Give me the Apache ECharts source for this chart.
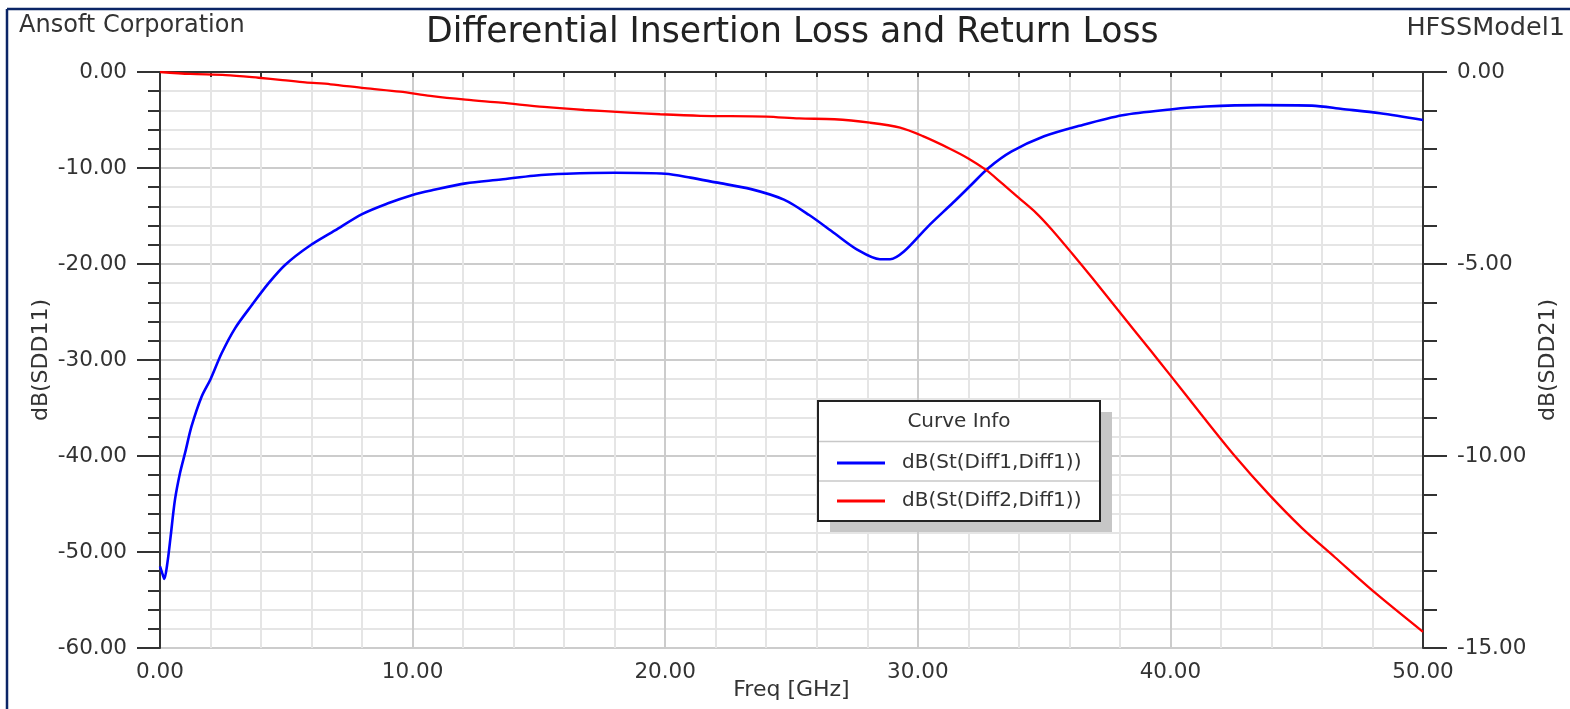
<!DOCTYPE html>
<html>
<head>
<meta charset="utf-8">
<title>Differential Insertion Loss and Return Loss</title>
<script src="https://cdn.jsdelivr.net/npm/echarts@6/dist/echarts.min.js"></script>
<style>
  html, body { margin: 0; padding: 0; background: #ffffff; }
  #chart { width: 1570px; height: 709px; }
</style>
</head>
<body>
<div id="chart"></div>
<script>
// Differential return loss, dB(St(Diff1,Diff1)) — left axis
const freqSdd11 = [0, 0.1, 0.17, 0.3, 0.42, 0.59, 0.79, 1.0, 1.25, 1.65, 2.0, 2.44, 2.97, 3.63, 4.3, 4.95,
  5.87, 6.93, 8.0, 9.0, 10.0, 10.8, 12.1, 13.5, 14.8, 16.1, 18.0, 20.0, 21.0, 22.0, 23.4, 24.7, 25.7,
  26.7, 27.6, 28.5, 28.9, 29.45, 30.4, 31.4, 32.1, 32.8, 33.7, 35.0, 36.4, 38.1, 40.0, 41.4, 43.6,
  45.6, 46.8, 48.3, 50.0];
const sdd11 = [-51.5, -52.3, -52.8, -51.0, -48.4, -44.6, -41.8, -39.6, -36.9, -33.8, -32.0, -29.3, -26.7,
  -24.3, -22.0, -20.1, -18.2, -16.5, -14.8, -13.7, -12.8, -12.3, -11.6, -11.2, -10.8, -10.6, -10.5,
  -10.6, -11.0, -11.5, -12.2, -13.3, -14.9, -16.8, -18.5, -19.5, -19.5, -18.7, -16.1, -13.6, -11.8,
  -10.0, -8.3, -6.7, -5.6, -4.5, -3.9, -3.6, -3.45, -3.5, -3.85, -4.3, -5.0];

// Differential insertion loss, dB(St(Diff2,Diff1)) — right axis
const freqSdd21 = [0, 1.2, 2.6, 3.9, 4.85, 5.75, 6.75, 8.1, 9.5, 10.7, 12.1, 13.5, 15.2, 16.8, 18.4, 19.8,
  21.4, 24.0, 25.3, 26.7, 28.1, 29.3, 30.2, 31.25, 32.0, 32.7, 33.3, 34.0, 34.7, 35.3, 36.1, 36.9,
  37.9, 39.2, 40.0, 41.2, 42.55, 43.9, 45.2, 46.5, 48.1, 50.0];
const sdd21 = [0, -0.05, -0.08, -0.15, -0.21, -0.27, -0.32, -0.42, -0.51, -0.62, -0.72, -0.80, -0.91,
  -0.99, -1.05, -1.10, -1.14, -1.16, -1.21, -1.23, -1.32, -1.45, -1.67, -1.99, -2.25, -2.55, -2.88,
  -3.28, -3.68, -4.10, -4.72, -5.36, -6.18, -7.24, -7.90, -8.90, -10.00, -11.00, -11.87, -12.63,
  -13.56, -14.58];

const seriesNames = ['dB(St(Diff1,Diff1))', 'dB(St(Diff2,Diff1))'];
const titleText = 'Differential Insertion Loss and Return Loss';
const companyText = 'Ansoft Corporation';
const modelText = 'HFSSModel1';
const xName = 'Freq [GHz]';
const yLeftName = 'dB(SDD11)';
const yRightName = 'dB(SDD21)';
const legendTitle = 'Curve Info';

const FONT = 'DejaVu Sans';
const TEXT = '#333333';
const AXIS = '#333333';

const zip = (xs, ys) => xs.map((x, i) => [x, ys[i]]);
const fmt2 = v => v.toFixed(2);

const chart = echarts.init(document.getElementById('chart'), null, { renderer: 'canvas' });

chart.setOption({
  animation: false,
  backgroundColor: '#ffffff',
  title: [
    { text: titleText, left: 426, top: 15, padding: 0,
      textStyle: { fontFamily: FONT, fontSize: 34.7, fontWeight: 'normal', color: '#222' } },
    { text: companyText, left: 19, top: 14, padding: 0,
      textStyle: { fontFamily: FONT, fontSize: 24, fontWeight: 'normal', color: TEXT } },
    { text: modelText, right: 5, top: 15, padding: 0,
      textStyle: { fontFamily: FONT, fontSize: 25.5, fontWeight: 'normal', color: TEXT } }
  ],
  grid: {
    left: 160, right: 147, top: 72, bottom: 61,
    containLabel: false, outerBoundsMode: 'none',
    show: true, borderColor: AXIS, borderWidth: 2, backgroundColor: 'transparent'
  },
  legend: {
    data: seriesNames,
    orient: 'vertical',
    left: 837, top: 453,
    padding: 0,
    itemWidth: 48, itemHeight: 3,
    itemGap: 18,
    icon: 'rect',
    selectedMode: false,
    z: 10,
    textStyle: { fontFamily: FONT, fontSize: 20, color: TEXT, padding: [0, 0, 0, 12] }
  },
  xAxis: {
    type: 'value', min: 0, max: 50, interval: 10,
    name: xName, nameLocation: 'middle', nameGap: 31, nameMoveOverlap: false,
    nameTextStyle: { fontFamily: FONT, fontSize: 22, color: TEXT },
    axisLine: { show: true, lineStyle: { color: AXIS, width: 2 } },
    axisTick: { show: true, length: 5, lineStyle: { color: AXIS, width: 2 } },
    minorTick: { show: true, splitNumber: 5, length: 5, lineStyle: { color: AXIS, width: 2 } },
    axisLabel: { formatter: fmt2, margin: 13, fontFamily: FONT, fontSize: 21.5, color: TEXT },
    splitLine: { show: true, lineStyle: { color: '#cccccc', width: 2 } },
    minorSplitLine: { show: true, lineStyle: { color: '#e5e5e5', width: 2 } }
  },
  yAxis: [
    {
      type: 'value', min: -60, max: 0, interval: 10, position: 'left',
      name: yLeftName, nameLocation: 'middle', nameGap: 108, nameMoveOverlap: false,
      nameTextStyle: { fontFamily: FONT, fontSize: 22, color: TEXT },
      axisLine: { show: true, lineStyle: { color: AXIS, width: 2 } },
      axisTick: { show: true, length: 23, lineStyle: { color: AXIS, width: 2 } },
      minorTick: { show: true, splitNumber: 5, length: 12, lineStyle: { color: AXIS, width: 2 } },
      axisLabel: { formatter: fmt2, margin: 33, fontFamily: FONT, fontSize: 21.5, color: TEXT },
      splitLine: { show: true, lineStyle: { color: '#cccccc', width: 2 } },
      minorSplitLine: { show: true, lineStyle: { color: '#e5e5e5', width: 2 } }
    },
    {
      type: 'value', min: -15, max: 0, interval: 5, position: 'right',
      name: yRightName, nameLocation: 'middle', nameGap: 114, nameMoveOverlap: false,
      nameTextStyle: { fontFamily: FONT, fontSize: 22, color: TEXT },
      axisLine: { show: true, lineStyle: { color: AXIS, width: 2 } },
      axisTick: { show: true, length: 24, lineStyle: { color: AXIS, width: 2 } },
      minorTick: { show: true, splitNumber: 5, length: 14, lineStyle: { color: AXIS, width: 2 } },
      axisLabel: { formatter: fmt2, margin: 34, fontFamily: FONT, fontSize: 21.5, color: TEXT },
      splitLine: { show: false },
      minorSplitLine: { show: false }
    }
  ],
  series: [
    {
      name: seriesNames[0], type: 'line', yAxisIndex: 0,
      data: zip(freqSdd11, sdd11),
      showSymbol: false, symbol: 'none',
      smooth: 0.3,
      lineStyle: { color: '#0000ff', width: 2.6 },
      itemStyle: { color: '#0000ff' },
      z: 3
    },
    {
      name: seriesNames[1], type: 'line', yAxisIndex: 1,
      data: zip(freqSdd21, sdd21),
      showSymbol: false, symbol: 'none',
      smooth: 0.3,
      lineStyle: { color: '#ff0000', width: 2.3 },
      itemStyle: { color: '#ff0000' },
      z: 4
    }
  ],
  graphic: [
    // outer frame
    { type: 'line', z: 20, shape: { x1: 7, y1: 9, x2: 1570, y2: 9 },
      style: { stroke: '#0b2566', lineWidth: 2.5 } },
    { type: 'line', z: 20, shape: { x1: 7, y1: 9, x2: 7, y2: 709 },
      style: { stroke: '#0b2566', lineWidth: 2.5 } },
    // curve info box
    { type: 'rect', z: 5, shape: { x: 830, y: 412, width: 282, height: 120 },
      style: { fill: '#c6c6c6' } },
    { type: 'rect', z: 6, shape: { x: 818, y: 401, width: 282, height: 120 },
      style: { fill: '#ffffff', stroke: '#222222', lineWidth: 2 } },
    { type: 'line', z: 7, shape: { x1: 819, y1: 441.5, x2: 1099, y2: 441.5 },
      style: { stroke: '#c8c8c8', lineWidth: 1.5 } },
    { type: 'line', z: 7, shape: { x1: 819, y1: 481, x2: 1099, y2: 481 },
      style: { stroke: '#c8c8c8', lineWidth: 1.5 } },
    { type: 'text', z: 7, x: 959, y: 421.5,
      style: { text: legendTitle, fontFamily: FONT, fontSize: 20, fill: TEXT,
               align: 'center', verticalAlign: 'middle' } }
  ]
});
</script>
</body>
</html>
